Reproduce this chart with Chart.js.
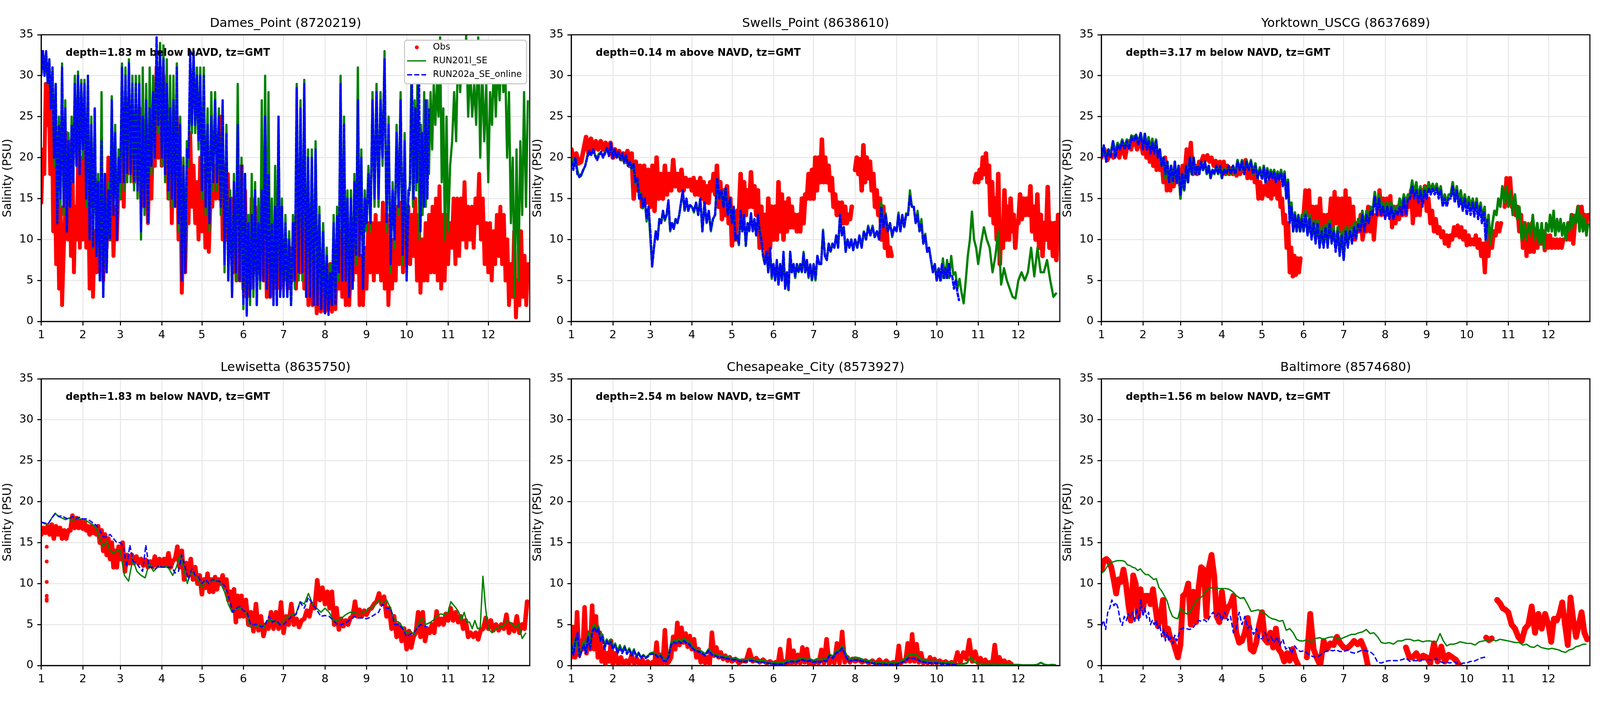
<!DOCTYPE html>
<html>
<head>
<meta charset="utf-8">
<title>Salinity</title>
<script src="https://cdn.jsdelivr.net/npm/chart.js"></script>
<style>
html, body { margin: 0; background: #fff; overflow: hidden; }
canvas { position: absolute; }
</style>
</head>
<body>
<script>
// x axis is day of year, ticks are the month numbers
const monthLabels = ["1","2","3","4","5","6","7","8","9","10","11","12"];
const monthDays = [31,28,31,30,31,30,31,31,30,31,30,31];
const yTicks = [0,5,10,15,20,25,30,35];
const legendLabels = ["Obs","RUN201l_SE","RUN202a_SE_online"];

const stationTitles = ["Dames_Point (8720219)","Swells_Point (8638610)","Yorktown_USCG (8637689)","Lewisetta (8635750)","Chesapeake_City (8573927)","Baltimore (8574680)"];
const depthNotes = ["depth=1.83 m below NAVD, tz=GMT","depth=0.14 m above NAVD, tz=GMT","depth=3.17 m below NAVD, tz=GMT","depth=1.83 m below NAVD, tz=GMT","depth=2.54 m below NAVD, tz=GMT","depth=1.56 m below NAVD, tz=GMT"];

// every series: one list per month, values read left to right inside that month
const damesObs = [
 [14.5,21,18,29,24,29,18,28,11,20,7,15,4,14,2,8,13,23,10,22,8,20,6,14,10,22,9,20],
 [10,21,9,18,4,13,3,11,6,17,6,18,5,14,9,20,10,18,8,14,10,18],
 [15,24,14,26,18,26,20,25,17,24,18,26,15,23,14,23,12,20,15,24,19,31,20,31],
 [19,30,20,26,15,24,12,23,15,25,10,20,3.5,12,6,15,12,23,14,19,12,17,10,20],
 [11,19,9,16,8.5,15,14,19,15,21,15,25,10,19,10,18,10,15,6,12,5,18,5,19],
 [4,16,3,10,4,15,6,14,6,13,7,12,5,14,3,10,3,8,4,8,5,9,4,8],
 [5,10,4,9,5,11,4,15,6,14,4,13,2,10,2,8,1,7,1.2,6],
 [1.2,6,1.5,7,1.2,8,1.5,9,4,11,3,10,2,7,2,7,5,12,6,16,2,8,2,9],
 [4,12,6,12,5,13,6,12,5,14.5,4,13,2,9,4,10,5,14,7,14.5,6,13],
 [7,14,7,13,8,15,5,13,3.5,10,5,12,5,13,6,14,6,15,5,16.5,4,13,5,13],
 [7,12,9,15,7,15,8,15,10,17,9,14,10,14,9,15,12,18,10,15,7,12],
 [6,12,5,11,7,13,8,14,7,13,5,10,2,7,3,11,0.5,5,2,11,3,8,2,7]
];
const damesGreen = [
 [30,33,30,32.8,29,32,26,31,19,29,12,25,14,31.5,13,27,11,23,14,25,17,30,19,30.5,18,29.5],
 [20,29.5,14,30,10,25,9,26,8,18,5,28,3,18,6,17,10,27.5,13,24,10,21],
 [15,31.5,16,31,17,32,17,30,16,30,15,30,10,31,13,29,12,31,18,30,20,33,23,34],
 [19,33.7,17,32,15,30,14,30,14,31.5,11,25,5,20,6,22,19,31,23,33,23,31,21,31],
 [15,31,13,26,11,28,16,28,16,26,13,27,6,24,5,16,3,18,5,29,5,20],
 [1.5,18,1,13,2,18,3,17,2,15,4,27,5,30,4,28,3,15,2,19,2,25,3,15],
 [3,13,3,11,2,13,4,29,5,27,5,29.5,3,21,3,21,2,22,2,14,1.5,12],
 [1,9,1,7,2,13,2,14,5,30,5,25,5,16,3,16,4,18,7,31,8,21,4,16],
 [11,19,11,28,14,29,14,28,19,33,11,25,6,17,9,24,13,28,7,23],
 [5,16,16,31,14,27,16,34,10,24,13,28,14,27,18,28,21,29,24,29,25,34.7,17,26,10,25],
 [11,19,22,28,22,34,28,33,30,34.9,25,31,25,29,24,34.7,20,31,22,29],
 [17,28,24,32,25,32,27,33,28,31,20,28,12,20,3,21,5,22,13,28,14,27]
];
const damesBlue = [
 [30,33,30,33,29,32,26,31,20,29,12,24,15,31,14,26,11,22,14,24,17,29,19,30,18,29],
 [21,29,15,30,10,24,9,26,8,17,5,22,3,18,6,16,10,27,13,23,10,20],
 [17,31,17,30,18,31.5,18,29,17,29,16,29,11,25,14,27,12,26,19,28,20,34.7,24,33],
 [20,32,18,29,16,26,15,27,14,31,12,24,5,19,6,21,20,33,24,33,24,30,22,30],
 [16,30,14,24,12,25,17,27,17,25,14,27,7,23,5,15,3,17,6,24,5,19],
 [2,18,0.7,12,3,13,4,16,2,12,5,16,5,25,4,18,3,12,2,14,2,25,3,14],
 [3,12,3,10,2,12,5,28.5,6,26,6,29,3,20,3,20,2,21,2,13,1.5,11],
 [1,8,0.8,6,2,12,2,13,6,29,5,24,5,15,3,15,4,17,8,27,8,20,4,15],
 [12,18,12,27,15,28,15,27,20,32,12,24,7,16,10,23,14,27,8,22],
 [5,15,17,30,15,26,17,33.5,11,23,14,27,15,26,null,null,null,null,null,null,null,null,null,null]
];

const swellsObs = [
 [21,19.5,20.5,19.3,19.5,21,22.5,20.5,22.3,20.8,22,21,22,21,21.8,21,21.8],
 [20,21,20.2,20.8,19.8,20.5,19.5,20.8,19,20.5,15,19.5,16,19,14,19,14.5,18.5],
 [14,19,13.5,20,15,18,15,19,15.5,18,16,19.7,16.5,18,16,18.5,16,17.5,16.5,17.3],
 [16,17.5,15.5,17,15.5,17.5,15,17,14.5,16.5,14.5,17,16,18,15.5,19,14,17,12.5,16,13,16.5,12,15],
 [9.3,12,10,13.5,13,18,13,17,13,16,14,18.2,14,16.5,13,16,9,14,9,13,8,15,9,14],
 [10,14,10,17,11,15.5,10,14.5,11,15,11.5,14,11.5,13,11,13,11,15,12,15.5,15,18,15,18.5],
 [15,20,16,20,17,22.2,17,20,17,19,16,17.5,14,15.5,13,14.5,13,14.5,12,14,12,13,12.5,14,null],
 [18.5,20,18,19.8,16,21.5,17,20,17.5,19.5,16,18,14,16,13,15,10,14,9,11,8,9,8,null,null],
 [],
 [null,null,null,null,null,null,null,null,null,null,null,null,null,null,null,null,null,null,null,null,null,null,17,18],
 [17,18.5,17.5,20,18,20.5,17,19,13,17,12,15,10,18,7,12,9,16,10,14,10,15,11,13,9,12],
 [12,15.5,12.5,15,13,15,13,16.5,11,14,10,15.5,9,13,8,12,10,16.4,9,12,8,12,7.5,13]
];
const swellsGreen = [
 [20,19,20,18.5,17.6,17.8,18.5,19,20.2,20.5,20.3,21,20.3,20,20.5,20.5,20.3,20.7,21,20.3,21.5],
 [20,20.8,20,20.5,19.7,20.5,19.3,20.3,19,19.5,18.5,19.3,16.8,17.5,15,15.7,13.8,15,12.2,14],
 [10,6.9,9,11,10,12.5,12,13.5,12.3,13,14.5,11,12,11.5,12.5,12,13,14.5,16,13.5,15,13.5,14.2],
 [14,13.3,14.5,13,15,11,14.5,12,13.5,11,12.5,13,17.5,15,16,14,16.3,13,15],
 [12,14,10,10.3,9.3,13.5,11,13,9.2,12,11,13.2,11,12.5,10.5,13,11,10,8,7,8.3,6,8.8,5.2],
 [7,5,7.3,4.5,7,5,8.3,4,6,3.8,8.5,6,7,5.3,7,6,7,6,8.5,6,7.3,5.3,7,5],
 [7,5,8,7,7,11.2,8,7.5,9.5,8.5,9.5,9,10.5,9,13,10.7,11.5,8.5,10,9,10,8.7],
 [10,9,10.5,9,11,10,11.7,10.5,11.7,10.3,11,10,14.5,11.5,13.2,11,12,10.3,11.5],
 [11,13.3,11,13,11.5,13.2,13,16,14,14,12,13.5,11,12.5,9.5,10.7,8.5,9,7.5,6,7],
 [5,6.5,5,7.7,5.3,7.5,5.3,8,5.7,6,4,5.2,3.5,2.2,5,8,10,13.4,10,9],
 [7,9.5,11.5,10,9,6,8,11,4.5,6.5,5,4,3,2.8],
 [5,6,5,6,9,5.5,9,6,6,7.5,5,3,3.5]
];
const swellsBlue = [
 [19.5,18.5,20,18,17.7,18,18.5,19,20,20.8,20.3,21,20.2,19.7,20.3,20.7,20,20.5,21.2,20.2,21.8],
 [20,21,20,20.7,19.8,20.5,19.5,20.3,19,19.5,18.7,19.2,17,17.5,15,15.5,14,15,12.5,14],
 [11,6.7,9,11,10,12.5,12,13.5,12.5,13,14.8,11.2,12,11.3,12.5,12,13,14.5,16,13.5,15,13.5,14.2],
 [14,13.5,14.5,13,15,11,14.5,12,13.5,11.2,12.5,13,17.5,15,16,14,16.3,13,15],
 [12,14,10,10.5,9.5,13.5,11,13,9.3,12,11,13.2,11,12.5,10.5,13,11,10,8,7,8.5,6,9,5.5],
 [7,5,7.5,4.5,7,5,8.5,4,6,3.8,8.5,6,7,5.5,7,6,7,6,8.3,6,7.5,5.5,7,5],
 [7,5.2,8,7,7,11,8,7.5,9.5,8.5,9.5,9,10.5,9,13,10.5,11.5,8.5,10,9,10,8.7],
 [10,9,10.5,9,11,10,11.5,10.5,11.5,10.3,11,10,14,11.5,13,11,12,10.5,11.5],
 [11,13,11,13,11.5,13,13,15.3,14,14,12,13,11,12,9.5,10.5,8.5,9,7.5,6,7],
 [5,6.5,5,7,5.3,6.5,5.3,7,5.5,5.5,4,5,3.5,2.5,null,null,null,null,null,null,null,null,null,null]
];

const yorktownObs = [
 [20,21,19.7,20.5,20,21,20,21.5,20,22,21,22.5,21,22.3],
 [20.5,21.5,20,21,19.5,21,19,21,18.5,20.5,18.5,19.5,17,20,16,18,16,17.5,16.5,17.5,17,18.5],
 [16.5,19,18,21,19,21.8,18,19,18,19.5,19.5,20.2,19.7,20.3,19.5,20,19,19.6,19,19.5],
 [18.5,19.5,18,19,18,18.7,18,18.5,17.8,18.5,18,19,18.5,19.7,17.5,18.5,17.5,18.5,17,18,15,17],
 [15,16.5,15.5,17,15.3,17,15,18,15.5,17.5,15,17,14,15,12,13,9,12,6,9,5.5,8,5.7,7.7,6,7.7,null],
 [13,16,13,16,11,14,12,14,11,15,11,13,11,13,12,15,11,15.8,12,15,11,15],
 [10,16,11,15,11.5,14,10,12,11,13,10,11.5,11,14,11,13,10,13,13,16,13,15],
 [13,15,13,15.3,11.5,14,12,14,12.5,14,13,15,13,15,14,16,12,15,13,15,13,16,15,16.5],
 [13.5,15,12,13.5,11,12.5,10.8,11.5,10.3,11,9.5,10.5,9.2,10.5,10,11.5,10.5,11.7,10.3,11.5,10,11],
 [9.3,10.5,9.4,10,9.4,10.5,9,10,8,9.5,6,10,8,11,9,11,10.5,12,11,12,null,14,17.5],
 [15,17.5,14,15,13,14,11,13,9,12,8,11,8.5,12,8.5,11,9,11,9.5,11,8.7,10.5],
 [9,10.5,9,10,9,10,9,10,9,10,null,10,12,10,13,9.5,12,12.5,14,12,14,12,13,12,13]
];
const yorktownGreen = [
 [20.2,21.3,20,21,20.5,22,20.5,21.8,21.2,22.2,21.2,22.2,21.3,22.7,22.2,22.8,21.8,23],
 [21.3,22.9,21.3,22.5,20.8,22.3,20.8,22.2,20,21,19,20,17.5,19.5,17,19,17,19.5,17,19],
 [15,18,16,19,17,20,18,20,18,19,18,19.5,18.5,19.5,18,19,17.5,18.5,18,19,18,19],
 [17.5,18.7,18,19,18,19,18,19.7,18.5,19.7,18,19.7,18.5,19.7,18,19.3,17.5,18.8],
 [17.5,19,17,18.7,17.5,18.5,17.7,18.5,17.2,18.3,17.5,18.5,16.8,18.3,15.5,17.3,12.5,14.5,11,13.3,11,13,11,13],
 [11,13.5,10.7,13,10.3,12.3,9.8,12.3,9.3,11.5,9.3,11.8,9.3,12.3,9.7,11.5,9,11.5,8.5,11],
 [7.7,11.5,9.5,11.5,10,12,10.5,12.5,11.5,13.5,11.5,13.5,12.5,14,13.5,15.8,13.5,15.5,13.5,14.5],
 [13,14.5,13,14.5,13,14,13.5,15,14,15.5,14.5,15.5,15.5,17.2,15.5,17,15,16.5,15,16.5],
 [15.5,17,16,16.8,16,16.8,15.5,16.5,14.5,15.5,14.5,15.5,15.5,17,15,16.5,14.5,16,14,15.5],
 [14,15.2,14,15,13.5,15,13,14.5,12.5,14,10,13,9.5,12,13.5,13,15,14,16.5,14.5,16.5],
 [14,16,13,15.5,12.5,14,10,12,10,12,10.5,13,10,12,9.5,12,9,12],
 [11,13,11,13.5,10.5,12.5,11,12.5,10.5,12,10,12,11,13,11.5,13,12,14,11,13,11,12.5,10.5,12]
];
const yorktownBlue = [
 [20,21.5,19.5,21,20,22,20,21.5,21,22,21,22,21,22.5,22,22.7,21.5,23],
 [21,22.9,21,22,20.5,21.8,20.5,22,20,21,19,20,18,19.5,17,19,17,19.5,17,19],
 [15.5,18,16,19,17,20,18,20,18,19,18,19.5,18.5,19.5,18,19,17.5,18.5,18,19,18,19],
 [17.5,18.5,18,19,18,19,18,19.5,18.5,19.5,18,19.5,18.5,19.5,18,19,17.5,18.5],
 [17.3,18.8,17,18.5,17.3,18.2,17.5,18.2,17,18,17.3,18.2,16.5,18,15,17,12,14,11,13,11,12.9,11,12.5],
 [11,13,10.5,12.5,10,12,9.5,12,9,11,9,11.5,9,12,9.5,11,8.5,11,8,10.5],
 [7.5,11,9,11,9.5,11.5,10,12,11,13,11,13,12,13.5,13,15.2,13,15,13,14],
 [12.5,14,12.5,14,12.5,13.5,13,14,13,15,13,15,15,16.5,15,16,14.5,16,14,16],
 [15,16.3,15.5,16.2,15.5,16.3,15,16,14,15,14,15,15,16.5,14.5,16,14,15,13.5,15],
 [13,14.5,13,14.5,12.8,14.5,12.5,14,12,13.5,10,12.5,null,null,null,null,null,null,null,null,null,null]
];

const lewisObs = [
 [16,16.8,16.2,17,16,17.2,15.5,17,16,16.8,15.5,16.5,15.5,16.5,16.5,18.3,16.8,18,16.8,17.7],
 [16.7,17.5,16.5,17,16,17,16.2,16.9,16,17,15,16.5,14,16,13.5,15.5,13,15,12,14,12,14.5],
 [13,15,11.5,13.5,12.5,13.5,12.5,13.3,12.5,13,12.2,12.9,12,12.7,12,13.3,12.2,13],
 [12.2,13,12.2,13.7,12,12.8,13,14.5,12,14,10.5,12.5,11,13,10.5,12,10,11],
 [8.7,10.5,9.5,11.2,9,10.5,9,10.8,9.3,10.5,10,11,9.5,10.5,8,9,7,9.3,5.3,8.5,6,8.5],
 [6,8,5,6.5,4.2,7.5,4.3,6,3.6,5,4.5,6.5,4.5,6.5,4.5,7.7],
 [4,6,5,7.5,5,5.7,4.7,5.5,5.7,6.7,6,7.5,7,10.4,8,9.5],
 [7.5,9,7,9,5,7,4.4,5.7,4.8,5.5,5,5.8,6,7.8,6,6.8,6,6.7],
 [6.2,6.8,7,7.5,7.8,8.8,7.5,8.4,6,7,4.5,6,3.5,5,3,4.5],
 [2,4.2,2.2,3.5,4,6.5,3.5,6.5,3,4.5,4,5,4,6.6,5,5.7,5,6.3],
 [5.5,7,5.5,6.5,5.3,6,4.5,5.5,3.5,4,3.5,4,3.2,4.3,4.5,5.8],
 [4.5,5.5,4.3,5,4.3,5,4.5,6.2,4,5,4.2,6,4,5,4.5,7.8]
];
const lewisOutlierMonths = [1.13,1.13,1.13,1.13,1.13,1.13];
const lewisOutlierVals = [14.5,12.7,10.2,8.5,8.1,7.9];
const lewisGreen = [
 [17.5,17.3,17.3,18,18.6,18.2,18,17.8,18,17.6,18,17.9],
 [17.9,17.7,17.4,17.2,16.7,15.5,14.5,15.2,14,13.7,14],
 [14,11,10.3,13,11.5,11,10.7,12.5,11.5,12],
 [12,12.2,11.8,11,12,13.5,12,10,11.5,11,10.5],
 [9.5,10.3,10.2,10.4,10.5,10,9,7.5,6.5,7,7],
 [6.8,6.3,4.7,5,4.7,5,4.5,5.5,5.5,5.5,5.2,5],
 [5.5,6,6.2,6.3,7.8,7.5,8.8,7.5,7,6.5],
 [7,6.5,5.5,5.5,5.8,6.2,6.5,6.5,6.3,6.4],
 [6.7,7,7.3,8,7.5,8,7,5.5,5.3,4.7],
 [4,4.2,3.8,5,5.8,5,5.2,5.5,6,6.3,6.2],
 [6.5,7.8,7.4,7,6.5,5.5,6.5,5.3,5.3,4.5,5.5,4.5,4.6,10.9,7],
 [4.5,4,4.5,4.7,4.8,5.5,5.2,4.7,5,3.3,4]
];
const lewisBlue = [
 [17.5,17.4,17.3,18,18.5,18.2,18.3,18,17.9,18.2,17.9,18.1],
 [17.9,17.9,17.7,17.4,17.1,16.5,15.7,15.7,16,15.5,15],
 [15,14.5,12,14.7,12.7,12.5,12,11.5,14.7,12,12,11.8,12.2],
 [12,12,12,12,11.3,11.5,13.5,12,10.5,11.8,11,10.8],
 [10,10.5,10,10.5,10.3,10.3,10,9.5,8,6.5,7,7.2],
 [6.7,6.5,5,5,5,4.7,5,6,5.3,5.5,5],
 [5,5.5,6,6.2,7.7,7,8.3,7.5,6.8,6],
 [6.1,6,5.5,5,5,5.2,5.6,6,5.8,5.8],
 [5.7,5.9,6.2,6.5,7.5,7,7,5,5,4.5],
 [3.5,3.8,4,4.5,5,4.8,4.7,null,null,null,null,null]
];

const chesObs = [
 [1,4.7,1,6.5,1.3,3,2,7.1,1.5,4,2,7.3,2,6,1,4,0.5,2,0.2,1.5,0.5,3],
 [0.1,1.5,0.1,1,0.1,0.6,0.2,1.3,0.2,0.8,0.1,0.7,0.1,0.5],
 [0.1,0.4,0.3,2.8,0.1,1.3,0.3,4.3,0.2,0.5,1,3.5,2,5.2,2.5,4.6,2.8,3.9,2.3,3.6],
 [2,3.2,1,2,0.4,1.3,0.3,1,0.2,4,1.2,2.2,1,1.6,0.8,1.2,0.6,1],
 [0.5,0.8,0.3,0.6,0.5,1.9,0.5,0.9,0.4,0.7,0.3,0.5],
 [0.2,0.4,0.2,2,0.2,0.5,0.2,3.1,0.2,1.8,0.3,1.3,0.3,2.2,0.4,2,0.2,0.5],
 [0.2,0.5,0.3,1.9,0.3,3.2,0.2,0.8,0.3,2.7,0.3,4.1,0.4,1,0.4,0.8],
 [0.5,0.7,0.4,0.6,0.3,0.6,0.2,0.7,0.2,0.6,0.2,0.4],
 [0.2,2.4,0.3,0.6,0.5,2.7,0.5,3.8,0.5,2.6,0.4,1.5,0.3,0.6,0.3,1,0.3,0.8],
 [0.3,0.6,0.3,0.5,0.2,0.4,0.2,1.6,0.4,1.6,0.8,3.1,0.5,1.7],
 [0.3,0.9,0.2,0.7,0.2,0.4,0.2,2.5,0.2,1,0.2,0.6,0.2,0.4,0.2,null,null]
];
const chesGreen = [
 [2.8,1.5,3.5,2,1.2,2.2,3,1.5,4,2.5,4.5,5,4.5,4.8,3.5,3.8,2.5,3.2,2.8,3.2],
 [2.3,2.7,1.8,2.5,1.7,2.4,1.6,2.1,1.4,2,1.2,1.6,1,1.3,1,1.2],
 [1.5,1.6,1.4,1.2,1.3,0.8,0.7,1.2,2.8,3,3,3.2,3,3.3,3,2.9],
 [2.4,2,1.9,1.7,1.4,2,1.5,1.4,1.2,1.2,1.1,1],
 [0.9,0.9,0.7,0.7,0.7,0.8,0.7,0.6,0.6,0.5,0.4],
 [0.35,0.3,0.3,0.4,0.6,0.7,0.6,0.8,0.9,0.7,0.8],
 [0.6,0.8,0.7,0.8,0.7,1.4,1.1,1.7,1.9,2.4,1.5,0.8,0.9],
 [1,0.9,0.7,0.6,0.5,0.4,0.4,0.3,0.3,0.3],
 [0.3,0.5,0.8,1.3,1.4,1.3,0.8,0.6,0.5,0.5],
 [0.5,0.4,0.4,0.3,0.3,0.2,0.2,0.2,0.3,1,0.4],
 [0.25,0.2,0.2,0.2,0.2,0.15,0.15,0.1,0.1],
 [0.1,0.05,0.05,0.05,0.05,0.1,0.35,0.1,0.05,0.1,0.05]
];
const chesBlue = [
 [2.5,1.3,3,4,1,1.8,2.5,1.5,3.5,2,4,4.7,4,4.5,3,3.5,2,3,2.5,2.9],
 [2,2.5,1.5,2.2,1.5,2.2,1.4,1.9,1.2,1.8,1,1.5,0.9,1.2,0.9,1.1],
 [1.4,1.4,1.3,1,1.2,0.6,0.5,1,2.5,2.8,2.7,2.9,2.7,3,2.7,2.6],
 [2.2,1.8,1.7,1.5,1.2,1.8,1.3,1.2,1,1,0.9,0.8],
 [0.7,0.7,0.5,0.5,0.5,0.6,0.5,0.4,0.4,0.3,0.25],
 [0.2,0.15,0.15,0.2,0.4,0.5,0.4,0.6,0.7,0.5,0.6],
 [0.4,0.5,0.4,0.6,0.5,1.2,0.9,1.5,1.7,2.1,1.2,0.5,0.6],
 [0.7,0.6,0.5,0.4,0.3,0.2,0.2,0.15,0.1,0.15],
 [0.15,0.3,0.5,0.9,0.9,0.8,0.5,0.4,0.3,0.3],
 [0.3,0.2,0.2,0.15,0.1,0.1,null,null,null,null]
];

const baltObs = [
 [11.7,12.8,13,12.7,12,10.5,8.8,10.5,10.2,11.7,10,7.5,5.5,11,10,6,9.3],
 [7,8.5,8.5,7.5,9.3,7,4.8,6,8,3.7,4.5,3.3,3,2,1],
 [2.5,8.5,8.8,10,5,9,5.3,9.5,12,11.7,6,12,13.5,11,6,5.3],
 [9,6,7,7.5,8.5,4,2.8,3,4,5.8,2,1.7,2.8,5],
 [6.5,3.2,2.8,4,2.2,4.5,2,1.5,0.5,1.5,0.6,2,0.8,0.1,null],
 [null,1,6.3,2,0.9,0,3,2,2.7,2.5,3.5,2.7],
 [2.2,2.1,2.5,3,2.6,3,2,0,null,null,null,null],
 [null,null,null,null,null,null,2.2,1,1,1.5,0.8,1.2],
 [1,0.3,2.7,0.5,2.3,0.5,1.3,1,0.7,0,null],
 [null,null,null,null,null,null,null,3.4,3.1,3.3,null,8,7.6,7,6.8],
 [6.5,5,4.5,3.5,3,4.5,5,7.2,4,6.3,4.5,6.3],
 [5,2.9,5.7,5.5,6.3,7.7,5,2.5,8.3,5.5,3.5,5,6.5,4,3.2]
];
const baltGreen = [
 [11.3,11.5,12,12.4,12.6,12.7,12.8,12.8,12.8,12.7,12.3,12.2,12,11.9,11.6,11.8],
 [11.4,11.1,11.1,10.8,10.5,10.6,9.5,9.1,8.5,7.9,6.8,6,5.8,5.7],
 [7,6.5,6.3,6.5,7.2,7.9,8.2,8.5,9.1,9.4,9.5,9.5,9.4],
 [9.4,9.4,9.3,9,8.5,8.2,8.3,7.5,6.6,6.7,6.8],
 [6.5,6.3,5.9,5.7,5.6,5.4,5.5,4.3,4.5,4,3.2,3],
 [3,3.2,2.8,3.3,3.4,3.2,3.4,3.5,3.4,3.2],
 [3.4,3.6,3.8,3.8,4,4.1,4.4,3.9,4,3.5,2.8],
 [2.7,2.8,2.6,3,3,3.2,3.2,3,3.1,2.9],
 [3,3,2.9,2.9,3.9,3,2.4,2.6,2.6,2.7,2.9,2.8],
 [2.7,2.7,2.5,2.9,3,3.1,3.2,3,3.2,3.1],
 [3,2.9,2.8,2.8,2.5,2.6,2.3,2.2,2.5,2.2,2.1],
 [2,2.1,2,1.9,1.7,1.6,1.9,2,2.3,2.4,2.6,2.6]
];
const baltBlue = [
 [4.8,5.5,4.4,6.5,7,8,7.3,7.7,7,5.5,4.9,6,5.5,6.3,5.8,6.5,5.3,7,5.5,8],
 [6,7,5.8,6.5,5,5.5,5,5.5,4.5,5,3.5,4.5,3,4,3,3.5,2.7,3.7,3,3.7],
 [4.4,4.6,4.5,4.4,4.5,5,5.5,5.4,5.6,5.3,6,6.5,6,6.5],
 [5.5,6.5,5.5,6,4,4.5,6.5,5,6,4.5,5,3.8,4.5,3.2],
 [3.3,4,3,3.5,2.8,3.5,2.5,3.2,2,2.3,1.5,2.4,1.9,1.7],
 [1.8,1.5,1.2,1,1.1,1.4,1.7,1.9,1.8,1.9,1.7],
 [1.7,1.9,1.6,1.5,1.7,1.9,1.8,1.7,1.3,0.4,0.3],
 [0.5,0.6,0.6,0.6,0.7,0.9,0.5,0.6,0.6,0.7],
 [0.7,0.7,0.7,0.8,0.5,0.3,0.4,0.3,0.5,0.3,0.2,0.3],
 [0.3,0.5,0.5,0.7,0.9,1,1,null,null,null,null,null]
];

const obsSeries = [damesObs, swellsObs, yorktownObs, lewisObs, chesObs, baltObs];
const greenSeries = [damesGreen, swellsGreen, yorktownGreen, lewisGreen, chesGreen, baltGreen];
const blueSeries = [damesBlue, swellsBlue, yorktownBlue, lewisBlue, chesBlue, baltBlue];

// the window may be narrower than the 6000x1800 the layout was measured on
const sx = window.innerWidth / 6000;
const sy = window.innerHeight / 1800;
const k = Math.sqrt(sx);

// plot box of each panel, measured on the 6000x1800 reference
const plotLefts = [155, 2143, 4130, 155, 2143, 4130];
const plotTops = [89, 89, 89, 970, 970, 970];
const plotW = 1832;
const plotH = 734;
const axisW = 155 * sx;
const topH = 89 * sy;
const bottomH = 77 * sy;
const rightGap = 13 * sx;

// the fast tidal noise fills these panels solid, so their lines get wider
const obsWidths = [12, 14, 13, 14, 14, 18];
const greenWidths = [7, 7, 8, 4.2, 6, 4.2];
const blueWidths = [7, 7, 7, 4.2, 6, 4.2];
const blueGaps = [2, 2, 2, 6.7, 3, 6.7];

const monthStarts = [];
let dayCount = 0;
monthDays.forEach(d => { monthStarts.push(dayCount); dayCount += d; });

function toPoints(months) {
  let pts = [];
  months.forEach((vals, m) => {
    vals.forEach((v, i) => {
      pts.push({ x: monthStarts[m] + monthDays[m] * i / vals.length, y: v });
    });
  });
  return pts;
}

function outlierPoints(months, vals) {
  return vals.map((v, i) => {
    let m = Math.floor(months[i]) - 1;
    return { x: monthStarts[m] + monthDays[m] * (months[i] - m - 1), y: v };
  });
}

const FONT = "'DejaVu Sans'";

// frame, depth note and legend go on top of the lines
const panelExtras = {
  id: 'panelExtras',
  afterDatasetsDraw(chart, args, opts) {
    const ctx = chart.ctx;
    const a = chart.chartArea;
    ctx.save();
    ctx.strokeStyle = '#000';
    ctx.lineWidth = 3.3 * k;
    ctx.strokeRect(a.left, a.top, a.right - a.left, a.bottom - a.top);

    ctx.fillStyle = '#000';
    ctx.font = "bold " + (31.2 * k) + "px " + FONT;
    ctx.textBaseline = 'middle';
    ctx.textAlign = 'left';
    ctx.fillText(opts.note, a.left + 91 * sx, a.top + 47 * sy);

    if (opts.legend) {
      let bw = 378 * k, bh = 135 * k;
      let bx = a.right - 12 * sx - bw, by = a.top + 14 * sy;
      ctx.beginPath();
      ctx.roundRect(bx, by, bw, bh, 8 * k);
      ctx.fillStyle = '#fff';
      ctx.fill();
      ctx.strokeStyle = '#cccccc';
      ctx.lineWidth = 3.5 * k;
      ctx.stroke();

      ctx.fillStyle = '#ff0000';
      ctx.beginPath();
      ctx.arc(bx + 38 * k, by + 22 * k, 6 * k, 0, Math.PI * 2);
      ctx.fill();

      ctx.lineWidth = 4.2 * k;
      ctx.strokeStyle = '#008000';
      ctx.beginPath();
      ctx.moveTo(bx + 8 * k, by + 64 * k);
      ctx.lineTo(bx + 67 * k, by + 64 * k);
      ctx.stroke();

      ctx.strokeStyle = '#0000ff';
      ctx.setLineDash([15.4 * k, 6.7 * k]);
      ctx.beginPath();
      ctx.moveTo(bx + 8 * k, by + 107 * k);
      ctx.lineTo(bx + 67 * k, by + 107 * k);
      ctx.stroke();
      ctx.setLineDash([]);

      ctx.fillStyle = '#000';
      ctx.font = (27.5 * k) + "px " + FONT;
      legendLabels.forEach((t, i) => ctx.fillText(t, bx + 88 * k, by + (22 + i * 42.5) * k));
    }
    ctx.restore();
  }
};

stationTitles.forEach((title, i) => {
  const canvas = document.createElement('canvas');
  const cw = Math.round(axisW + plotW * sx + rightGap);
  const ch = Math.round(topH + plotH * sy + bottomH);
  canvas.width = cw;
  canvas.height = ch;
  canvas.style.left = Math.round((plotLefts[i] - 155) * sx) + 'px';
  canvas.style.top = Math.round((plotTops[i] - 89) * sy) + 'px';
  canvas.style.width = cw + 'px';
  canvas.style.height = ch + 'px';
  document.body.appendChild(canvas);

  const datasets = [
    { label: legendLabels[0], data: toPoints(obsSeries[i]), showLine: true, borderColor: '#ff0000', backgroundColor: '#ff0000',
      borderWidth: obsWidths[i] * k, pointRadius: obsWidths[i] / 2 * k, pointBorderWidth: 0, borderJoinStyle: 'round', borderCapStyle: 'round', order: 3 },
    { label: legendLabels[1], data: toPoints(greenSeries[i]), showLine: true, borderColor: '#008000',
      borderWidth: greenWidths[i] * k, pointRadius: 0, borderJoinStyle: 'round', order: 2 },
    { label: legendLabels[2], data: toPoints(blueSeries[i]), showLine: true, borderColor: '#0000ff',
      borderWidth: blueWidths[i] * k, borderDash: [15.4 * k, blueGaps[i] * k], pointRadius: 0, borderJoinStyle: 'round', order: 1 }
  ];
  if (i === 3) {
    datasets.push({ label: legendLabels[0], data: outlierPoints(lewisOutlierMonths, lewisOutlierVals), showLine: false,
      backgroundColor: '#ff0000', pointRadius: 6 * k, pointBorderWidth: 0, order: 3 });
  }

  const titleSize = 39 * k;
  const titleLine = titleSize * 1.2;
  const titleGap = 11 * k;

  new Chart(canvas, {
    type: 'scatter',
    data: { datasets: datasets },
    plugins: [panelExtras],
    options: {
      responsive: false,
      animation: false,
      devicePixelRatio: 1,
      layout: { padding: { left: 0, right: rightGap, top: topH - titleLine - titleGap, bottom: 0 } },
      plugins: {
        legend: { display: false },
        tooltip: { enabled: false },
        title: {
          display: true, text: title, fullSize: false, color: '#000',
          font: { family: FONT, size: titleSize, weight: 'normal', lineHeight: 1.2 },
          padding: { top: 0, bottom: titleGap }
        },
        panelExtras: { note: depthNotes[i], legend: i === 0 }
      },
      scales: {
        x: {
          type: 'linear', min: 0, max: 365,
          afterBuildTicks(scale) { scale.ticks = monthStarts.map(v => ({ value: v })); },
          afterFit(scale) { scale.height = bottomH; },
          ticks: {
            autoSkip: false, maxRotation: 0, color: '#000', padding: 10 * k,
            font: { family: FONT, size: 34.5 * k },
            callback(v) { return monthLabels[monthStarts.indexOf(v)]; }
          },
          grid: { color: '#e8e8e8', lineWidth: 3.3 * k, tickColor: '#000', tickWidth: 3.3 * k, tickLength: 12.5 * k },
          border: { color: '#000', width: 3.3 * k }
        },
        y: {
          type: 'linear', min: yTicks[0], max: yTicks[yTicks.length - 1],
          afterFit(scale) { scale.width = axisW; },
          ticks: { stepSize: 5, color: '#000', padding: 12 * k, font: { family: FONT, size: 34.5 * k } },
          title: {
            display: true, text: 'Salinity (PSU)', color: '#000',
            font: { family: FONT, size: 36 * k, lineHeight: 1.2 },
            padding: { top: Math.max(0, axisW - 103 * k - 21.6 * k), bottom: 0 }
          },
          grid: { color: '#e8e8e8', lineWidth: 3.3 * k, tickColor: '#000', tickWidth: 3.3 * k, tickLength: 12.5 * k },
          border: { color: '#000', width: 3.3 * k }
        }
      }
    }
  });
});
</script>
</body>
</html>
